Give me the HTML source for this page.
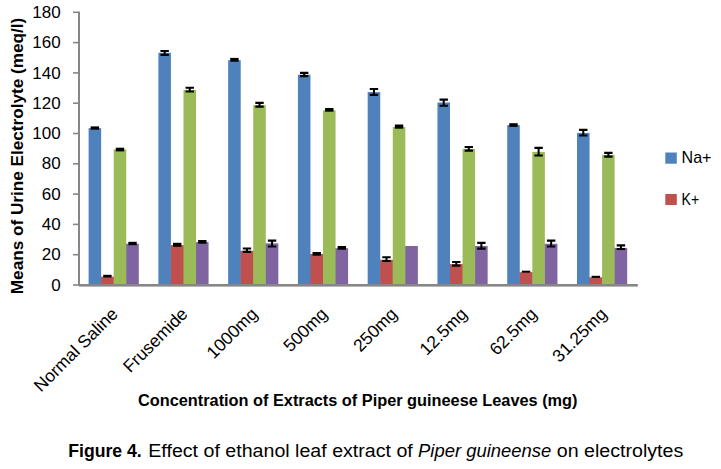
<!DOCTYPE html>
<html><head><meta charset="utf-8"><style>
html,body{margin:0;padding:0;background:#fff;}
body{width:721px;height:469px;overflow:hidden;position:relative;}
svg{position:absolute;left:0;top:0;}
.t{font-family:"Liberation Sans",sans-serif;font-size:17px;fill:#000;}
.b{font-family:"Liberation Sans",sans-serif;font-size:16px;font-weight:bold;fill:#000;}
.c{font-family:"Liberation Sans",sans-serif;font-size:17.5px;fill:#000;}
</style></head><body>
<svg width="721" height="469" viewBox="0 0 721 469">
<rect x="88.60" y="128.10" width="12.55" height="156.20" fill="#4F81BD"/>
<rect x="100.65" y="276.70" width="1" height="7.60" fill="#4F81BD"/>
<rect x="101.15" y="276.70" width="12.55" height="7.60" fill="#C0504D"/>
<rect x="113.20" y="276.70" width="1" height="7.60" fill="#C0504D"/>
<rect x="113.70" y="149.40" width="12.55" height="134.90" fill="#9BBB59"/>
<rect x="125.75" y="243.80" width="1" height="40.50" fill="#9BBB59"/>
<rect x="126.25" y="243.80" width="12.55" height="40.50" fill="#8064A2"/>
<rect x="158.37" y="52.80" width="12.55" height="231.50" fill="#4F81BD"/>
<rect x="170.42" y="245.10" width="1" height="39.20" fill="#4F81BD"/>
<rect x="170.92" y="245.10" width="12.55" height="39.20" fill="#C0504D"/>
<rect x="182.97" y="245.10" width="1" height="39.20" fill="#C0504D"/>
<rect x="183.47" y="89.90" width="12.55" height="194.40" fill="#9BBB59"/>
<rect x="195.52" y="242.10" width="1" height="42.20" fill="#9BBB59"/>
<rect x="196.02" y="242.10" width="12.55" height="42.20" fill="#8064A2"/>
<rect x="228.14" y="60.20" width="12.55" height="224.10" fill="#4F81BD"/>
<rect x="240.19" y="250.80" width="1" height="33.50" fill="#4F81BD"/>
<rect x="240.69" y="250.80" width="12.55" height="33.50" fill="#C0504D"/>
<rect x="252.74" y="250.80" width="1" height="33.50" fill="#C0504D"/>
<rect x="253.24" y="105.20" width="12.55" height="179.10" fill="#9BBB59"/>
<rect x="265.29" y="243.40" width="1" height="40.90" fill="#9BBB59"/>
<rect x="265.79" y="243.40" width="12.55" height="40.90" fill="#8064A2"/>
<rect x="297.91" y="74.70" width="12.55" height="209.60" fill="#4F81BD"/>
<rect x="309.96" y="254.00" width="1" height="30.30" fill="#4F81BD"/>
<rect x="310.46" y="254.00" width="12.55" height="30.30" fill="#C0504D"/>
<rect x="322.51" y="254.00" width="1" height="30.30" fill="#C0504D"/>
<rect x="323.01" y="110.30" width="12.55" height="174.00" fill="#9BBB59"/>
<rect x="335.06" y="248.20" width="1" height="36.10" fill="#9BBB59"/>
<rect x="335.56" y="248.20" width="12.55" height="36.10" fill="#8064A2"/>
<rect x="367.68" y="92.10" width="12.55" height="192.20" fill="#4F81BD"/>
<rect x="379.73" y="259.80" width="1" height="24.50" fill="#4F81BD"/>
<rect x="380.23" y="259.80" width="12.55" height="24.50" fill="#C0504D"/>
<rect x="392.28" y="259.80" width="1" height="24.50" fill="#C0504D"/>
<rect x="392.78" y="127.00" width="12.55" height="157.30" fill="#9BBB59"/>
<rect x="404.83" y="246.00" width="1" height="38.30" fill="#9BBB59"/>
<rect x="405.33" y="246.00" width="12.55" height="38.30" fill="#8064A2"/>
<rect x="437.45" y="102.50" width="12.55" height="181.80" fill="#4F81BD"/>
<rect x="449.50" y="264.10" width="1" height="20.20" fill="#4F81BD"/>
<rect x="450.00" y="264.10" width="12.55" height="20.20" fill="#C0504D"/>
<rect x="462.05" y="264.10" width="1" height="20.20" fill="#C0504D"/>
<rect x="462.55" y="148.90" width="12.55" height="135.40" fill="#9BBB59"/>
<rect x="474.60" y="246.00" width="1" height="38.30" fill="#9BBB59"/>
<rect x="475.10" y="246.00" width="12.55" height="38.30" fill="#8064A2"/>
<rect x="507.22" y="125.10" width="12.55" height="159.20" fill="#4F81BD"/>
<rect x="519.27" y="272.20" width="1" height="12.10" fill="#4F81BD"/>
<rect x="519.77" y="272.20" width="12.55" height="12.10" fill="#C0504D"/>
<rect x="531.82" y="272.20" width="1" height="12.10" fill="#C0504D"/>
<rect x="532.32" y="151.90" width="12.55" height="132.40" fill="#9BBB59"/>
<rect x="544.37" y="243.80" width="1" height="40.50" fill="#9BBB59"/>
<rect x="544.87" y="243.80" width="12.55" height="40.50" fill="#8064A2"/>
<rect x="576.99" y="132.90" width="12.55" height="151.40" fill="#4F81BD"/>
<rect x="589.04" y="277.30" width="1" height="7.00" fill="#4F81BD"/>
<rect x="589.54" y="277.30" width="12.55" height="7.00" fill="#C0504D"/>
<rect x="601.59" y="277.30" width="1" height="7.00" fill="#C0504D"/>
<rect x="602.09" y="154.90" width="12.55" height="129.40" fill="#9BBB59"/>
<rect x="614.14" y="247.90" width="1" height="36.40" fill="#9BBB59"/>
<rect x="614.64" y="247.90" width="12.55" height="36.40" fill="#8064A2"/>
<rect x="90.67" y="126.40" width="8.40" height="3.30" fill="#000"/>
<rect x="103.22" y="274.80" width="8.40" height="2.70" fill="#000"/>
<rect x="115.77" y="147.70" width="8.40" height="3.70" fill="#000"/>
<rect x="128.33" y="241.80" width="8.40" height="3.40" fill="#000"/>
<path d="M160.45 50.00h8.40v2.1h-8.40zM160.45 53.80h8.40v2.1h-8.40zM163.65 50.00h2V55.90h-2z" fill="#000"/>
<rect x="173.00" y="242.80" width="8.40" height="4.00" fill="#000"/>
<path d="M185.55 86.70h8.40v2.1h-8.40zM185.55 90.50h8.40v2.1h-8.40zM188.75 86.70h2V92.60h-2z" fill="#000"/>
<rect x="198.10" y="240.00" width="8.40" height="3.70" fill="#000"/>
<rect x="230.22" y="57.90" width="8.40" height="3.80" fill="#000"/>
<path d="M242.77 247.50h8.40v2.1h-8.40zM242.77 250.80h8.40v2.1h-8.40zM245.97 247.50h2V252.90h-2z" fill="#000"/>
<path d="M255.31 101.80h8.40v2.1h-8.40zM255.31 105.60h8.40v2.1h-8.40zM258.51 101.80h2V107.70h-2z" fill="#000"/>
<path d="M267.86 239.60h8.40v2.1h-8.40zM267.86 245.40h8.40v2.1h-8.40zM271.06 239.60h2V247.50h-2z" fill="#000"/>
<path d="M299.98 71.80h8.40v2.1h-8.40zM299.98 75.10h8.40v2.1h-8.40zM303.18 71.80h2V77.20h-2z" fill="#000"/>
<rect x="312.53" y="252.00" width="8.40" height="3.70" fill="#000"/>
<rect x="325.08" y="108.00" width="8.40" height="3.70" fill="#000"/>
<rect x="337.63" y="246.00" width="8.40" height="3.70" fill="#000"/>
<path d="M369.75 87.90h8.40v2.1h-8.40zM369.75 93.80h8.40v2.1h-8.40zM372.95 87.90h2V95.90h-2z" fill="#000"/>
<path d="M382.30 256.20h8.40v2.1h-8.40zM382.30 260.00h8.40v2.1h-8.40zM385.50 256.20h2V262.10h-2z" fill="#000"/>
<rect x="394.85" y="124.50" width="8.40" height="4.20" fill="#000"/>
<path d="M439.52 98.60h8.40v2.1h-8.40zM439.52 104.70h8.40v2.1h-8.40zM442.72 98.60h2V106.80h-2z" fill="#000"/>
<path d="M452.07 261.00h8.40v2.1h-8.40zM452.07 264.60h8.40v2.1h-8.40zM455.27 261.00h2V266.70h-2z" fill="#000"/>
<path d="M464.62 146.00h8.40v2.1h-8.40zM464.62 149.60h8.40v2.1h-8.40zM467.82 146.00h2V151.70h-2z" fill="#000"/>
<path d="M477.17 241.80h8.40v2.1h-8.40zM477.17 247.60h8.40v2.1h-8.40zM480.37 241.80h2V249.70h-2z" fill="#000"/>
<rect x="509.30" y="123.20" width="8.40" height="3.70" fill="#000"/>
<rect x="521.84" y="270.70" width="8.40" height="2.00" fill="#000"/>
<path d="M534.39 146.80h8.40v2.1h-8.40zM534.39 154.50h8.40v2.1h-8.40zM537.60 146.80h2V156.60h-2z" fill="#000"/>
<path d="M546.94 239.60h8.40v2.1h-8.40zM546.94 245.40h8.40v2.1h-8.40zM550.14 239.60h2V247.50h-2z" fill="#000"/>
<path d="M579.06 128.80h8.40v2.1h-8.40zM579.06 134.50h8.40v2.1h-8.40zM582.26 128.80h2V136.60h-2z" fill="#000"/>
<rect x="591.61" y="275.80" width="8.40" height="2.10" fill="#000"/>
<path d="M604.16 151.80h8.40v2.1h-8.40zM604.16 155.60h8.40v2.1h-8.40zM607.37 151.80h2V157.70h-2z" fill="#000"/>
<path d="M616.71 244.30h8.40v2.1h-8.40zM616.71 248.00h8.40v2.1h-8.40zM619.91 244.30h2V250.10h-2z" fill="#000"/>
<rect x="78" y="11.50" width="2" height="274.50" fill="#868686"/>
<rect x="79" y="284" width="558.80" height="2.6" fill="#868686"/>
<rect x="73" y="284.20" width="5" height="1.6" fill="#868686"/>
<rect x="73" y="253.90" width="5" height="1.6" fill="#868686"/>
<rect x="73" y="223.60" width="5" height="1.6" fill="#868686"/>
<rect x="73" y="193.30" width="5" height="1.6" fill="#868686"/>
<rect x="73" y="163.00" width="5" height="1.6" fill="#868686"/>
<rect x="73" y="132.70" width="5" height="1.6" fill="#868686"/>
<rect x="73" y="102.40" width="5" height="1.6" fill="#868686"/>
<rect x="73" y="72.10" width="5" height="1.6" fill="#868686"/>
<rect x="73" y="41.80" width="5" height="1.6" fill="#868686"/>
<rect x="73" y="11.50" width="5" height="1.6" fill="#868686"/>
<text x="60.6" y="290.60" text-anchor="end" class="t">0</text>
<text x="60.6" y="260.30" text-anchor="end" class="t">20</text>
<text x="60.6" y="230.00" text-anchor="end" class="t">40</text>
<text x="60.6" y="199.70" text-anchor="end" class="t">60</text>
<text x="60.6" y="169.40" text-anchor="end" class="t">80</text>
<text x="60.6" y="139.10" text-anchor="end" class="t">100</text>
<text x="60.6" y="108.80" text-anchor="end" class="t">120</text>
<text x="60.6" y="78.50" text-anchor="end" class="t">140</text>
<text x="60.6" y="48.20" text-anchor="end" class="t">160</text>
<text x="60.6" y="17.90" text-anchor="end" class="t">180</text>
<text transform="translate(118.83,315.00) rotate(-45)" text-anchor="end" class="t" style="font-size:17.5px">Normal Saline</text>
<text transform="translate(188.67,315.00) rotate(-45)" text-anchor="end" class="t" style="font-size:17.5px">Frusemide</text>
<text transform="translate(258.52,315.00) rotate(-45)" text-anchor="end" class="t" style="font-size:17.5px">1000mg</text>
<text transform="translate(328.37,315.00) rotate(-45)" text-anchor="end" class="t" style="font-size:17.5px">500mg</text>
<text transform="translate(398.22,315.00) rotate(-45)" text-anchor="end" class="t" style="font-size:17.5px">250mg</text>
<text transform="translate(468.07,315.00) rotate(-45)" text-anchor="end" class="t" style="font-size:17.5px">12.5mg</text>
<text transform="translate(537.92,315.00) rotate(-45)" text-anchor="end" class="t" style="font-size:17.5px">62.5mg</text>
<text transform="translate(607.77,315.00) rotate(-45)" text-anchor="end" class="t" style="font-size:17.5px">31.25mg</text>
<text transform="translate(23.2,294.2) rotate(-90)" class="b" textLength="276.5" lengthAdjust="spacingAndGlyphs">Means of Urine Electrolyte (meq/l)</text>
<text x="138" y="405.6" class="b" textLength="439.5" lengthAdjust="spacingAndGlyphs">Concentration of Extracts of Piper guineese Leaves (mg)</text>
<rect x="665.3" y="152.5" width="11.5" height="11.2" fill="#4F81BD"/>
<rect x="665.3" y="194" width="11.5" height="11" fill="#C0504D"/>
<text x="681.5" y="162.8" class="t" textLength="30" lengthAdjust="spacingAndGlyphs">Na+</text>
<text x="681.5" y="204.6" class="t" textLength="17.6" lengthAdjust="spacingAndGlyphs">K+</text>
<text x="68.2" y="456.8" class="c" font-weight="bold" textLength="73.6" lengthAdjust="spacingAndGlyphs">Figure 4.</text>
<text x="148.3" y="456.8" class="c" textLength="264.5" lengthAdjust="spacingAndGlyphs">Effect of ethanol leaf extract of</text>
<text x="418" y="456.8" class="c" font-style="italic" textLength="133.2" lengthAdjust="spacingAndGlyphs">Piper guineense</text>
<text x="556.8" y="456.8" class="c" textLength="126.5" lengthAdjust="spacingAndGlyphs">on electrolytes</text>
</svg>
</body></html>
